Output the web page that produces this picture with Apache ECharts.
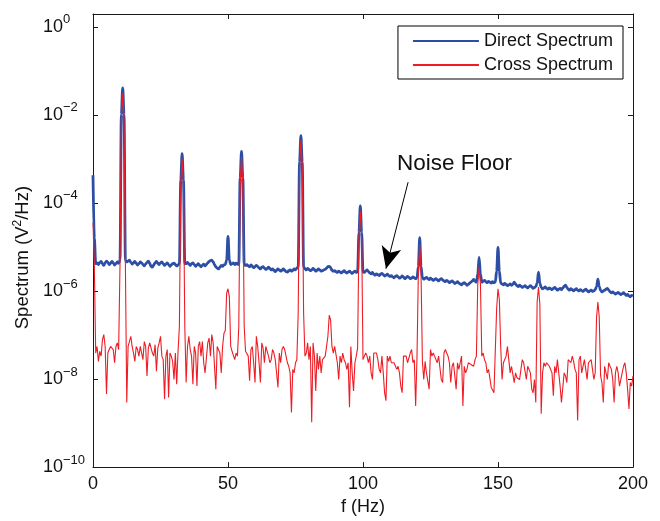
<!DOCTYPE html>
<html><head><meta charset="utf-8">
<script src="https://cdn.jsdelivr.net/npm/echarts@6/dist/echarts.min.js"></script>
<style>html,body{margin:0;padding:0;background:#fff}#c{width:660px;height:521px}</style>
</head><body><div id="c"></div>
<script>
// Frequency bin spacing of the spectra (Hz)
const binWidthHz = 0.5;
// Direct spectrum in decades (log10 of V^2/Hz), one value per 0.5 Hz bin, 0..200 Hz
const directLog10 = [
-3.37,-4.80,-5.38,-5.36,-5.40,-5.35,-5.33,-5.38,-5.42,-5.36,-5.32,-5.35,-5.40,-5.37,-5.33,-5.36,-5.41,-5.38,-5.34,-5.37,
-5.30,-1.99,-1.39,-1.99,-5.30,-5.34,-5.32,-5.30,-5.35,-5.39,-5.36,-5.33,-5.37,-5.41,-5.38,-5.34,-5.36,-5.40,-5.43,-5.39,
-5.35,-5.32,-5.37,-5.44,-5.46,-5.41,-5.36,-5.33,-5.37,-5.40,-5.36,-5.34,-5.38,-5.42,-5.39,-5.36,-5.40,-5.44,-5.41,-5.38,
-5.37,-5.40,-5.43,-5.41,-5.38,-3.48,-2.88,-3.48,-5.38,-5.38,-5.35,-5.39,-5.42,-5.38,-5.36,-5.40,-5.44,-5.41,-5.38,-5.42,
-5.45,-5.42,-5.39,-5.43,-5.40,-5.36,-5.33,-5.31,-5.30,-5.34,-5.40,-5.45,-5.48,-5.50,-5.46,-5.42,-5.44,-5.41,-5.40,-5.30,
-4.76,-5.30,-5.40,-5.38,-5.36,-5.40,-5.37,-5.39,-5.40,-3.43,-2.83,-3.43,-5.40,-5.42,-5.40,-5.43,-5.45,-5.41,-5.44,-5.47,
-5.45,-5.42,-5.44,-5.48,-5.50,-5.46,-5.45,-5.48,-5.51,-5.49,-5.46,-5.49,-5.52,-5.50,-5.53,-5.56,-5.53,-5.50,-5.52,-5.55,
-5.53,-5.50,-5.53,-5.56,-5.57,-5.54,-5.52,-5.55,-5.53,-5.50,-5.52,-5.48,-5.45,-3.07,-2.47,-3.07,-5.45,-5.50,-5.52,-5.49,
-5.51,-5.54,-5.52,-5.49,-5.51,-5.55,-5.53,-5.50,-5.52,-5.55,-5.54,-5.52,-5.51,-5.48,-5.45,-5.44,-5.47,-5.53,-5.55,-5.54,
-5.56,-5.58,-5.55,-5.57,-5.59,-5.56,-5.54,-5.57,-5.59,-5.57,-5.55,-5.58,-5.60,-5.57,-5.55,-5.58,-5.57,-4.67,-4.07,-4.67,
-5.57,-5.58,-5.55,-5.52,-5.56,-5.59,-5.61,-5.58,-5.62,-5.64,-5.61,-5.63,-5.65,-5.62,-5.60,-5.63,-5.66,-5.64,-5.62,-5.65,
-5.67,-5.65,-5.68,-5.70,-5.67,-5.65,-5.68,-5.71,-5.69,-5.66,-5.68,-5.72,-5.70,-5.67,-5.69,-5.72,-5.71,-5.68,-5.70,-5.72,
-5.70,-5.45,-4.79,-5.45,-5.70,-5.73,-5.71,-5.69,-5.72,-5.74,-5.71,-5.73,-5.76,-5.74,-5.72,-5.75,-5.77,-5.74,-5.72,-5.75,
-5.77,-5.79,-5.76,-5.78,-5.81,-5.79,-5.77,-5.80,-5.83,-5.81,-5.79,-5.82,-5.84,-5.86,-5.83,-5.81,-5.84,-5.87,-5.85,-5.82,
-5.80,-5.77,-5.74,-5.78,-5.80,-5.62,-5.24,-5.62,-5.80,-5.78,-5.76,-5.79,-5.81,-5.78,-5.80,-5.82,-5.79,-5.81,-5.80,-5.55,
-5.01,-5.55,-5.82,-5.84,-5.86,-5.83,-5.85,-5.88,-5.86,-5.84,-5.87,-5.85,-5.80,-5.84,-5.88,-5.90,-5.87,-5.89,-5.92,-5.90,
-5.88,-5.91,-5.93,-5.90,-5.88,-5.91,-5.94,-5.92,-5.90,-5.82,-5.57,-5.82,-5.92,-5.95,-5.93,-5.91,-5.94,-5.96,-5.93,-5.95,
-5.97,-5.94,-5.92,-5.95,-5.98,-5.96,-5.94,-5.97,-5.93,-5.89,-5.87,-5.92,-5.96,-5.98,-5.95,-5.97,-6.00,-5.97,-5.95,-5.98,
-6.00,-5.97,-5.99,-6.01,-5.98,-5.96,-5.99,-6.02,-6.00,-5.98,-6.01,-6.00,-5.97,-5.90,-5.73,-5.90,-5.99,-6.02,-6.00,-5.98,
-5.96,-5.94,-5.98,-6.02,-6.04,-6.02,-6.05,-6.07,-6.05,-6.03,-6.06,-6.08,-6.06,-6.04,-6.07,-6.10,-6.08,-6.11,-6.13,-6.10,
-6.09];
// Cross spectrum, same bins, log10 of V^2/Hz
const crossLog10 = [
-4.45,-5.45,-7.41,-7.26,-7.60,-7.37,-7.48,-7.11,-6.99,-7.26,-8.34,-7.41,-7.33,-7.26,-7.22,-7.33,-7.63,-7.26,-7.18,-7.33,
-5.41,-2.11,-1.51,-2.11,-5.41,-8.53,-7.26,-7.15,-7.03,-7.26,-7.41,-7.60,-7.26,-7.33,-7.48,-7.26,-7.22,-7.56,-7.15,-7.26,
-7.93,-7.30,-7.18,-7.15,-7.41,-7.48,-7.22,-7.82,-7.30,-7.18,-7.03,-7.48,-7.56,-8.46,-7.48,-7.33,-8.42,-7.41,-7.48,-7.60,
-8.01,-7.41,-8.12,-7.37,-6.80,-3.59,-2.99,-3.59,-6.80,-8.08,-7.26,-7.03,-7.33,-7.48,-8.12,-7.26,-7.41,-8.16,-7.26,-7.15,
-7.48,-7.15,-7.63,-7.86,-7.86,-7.18,-7.07,-7.48,-6.99,-7.18,-7.18,-8.23,-7.26,-7.22,-7.41,-7.86,-7.26,-6.96,-6.90,-6.05,
-5.95,-6.13,-7.26,-7.37,-7.33,-7.56,-7.41,-7.48,-6.80,-3.57,-2.97,-3.57,-6.80,-7.37,-7.41,-7.48,-8.04,-7.33,-7.26,-7.63,
-8.08,-7.03,-7.26,-7.63,-8.08,-7.18,-7.30,-7.63,-7.26,-7.26,-7.48,-7.63,-7.56,-7.33,-7.41,-7.56,-7.86,-8.19,-7.41,-7.63,
-7.33,-7.26,-7.33,-7.48,-7.63,-7.71,-7.86,-8.76,-7.78,-7.86,-7.63,-7.56,-6.50,-3.18,-2.58,-3.18,-6.50,-7.48,-7.41,-7.18,
-7.56,-7.26,-8.98,-7.18,-7.48,-8.27,-7.41,-7.78,-7.48,-7.86,-7.56,-7.60,-7.48,-7.26,-7.03,-6.55,-6.66,-7.26,-7.41,-7.26,
-7.22,-7.63,-8.01,-7.48,-7.63,-7.41,-7.56,-7.63,-7.78,-7.63,-8.64,-7.26,-7.86,-8.27,-7.63,-7.48,-7.30,-4.78,-4.18,-4.78,
-7.56,-7.48,-7.41,-7.48,-7.63,-7.48,-7.86,-8.01,-7.41,-7.37,-7.41,-7.56,-7.78,-7.86,-7.48,-7.86,-8.31,-8.49,-7.48,-7.60,
-7.48,-7.63,-7.60,-7.63,-7.63,-7.78,-7.71,-7.86,-8.16,-8.31,-7.48,-7.45,-7.48,-7.63,-7.63,-7.41,-7.33,-7.63,-7.56,-8.61,
-7.50,-5.60,-4.94,-5.60,-7.60,-8.01,-7.60,-7.86,-7.86,-8.23,-7.33,-7.48,-7.41,-7.48,-7.48,-7.63,-7.48,-7.48,-8.01,-8.08,
-7.41,-7.33,-7.41,-7.48,-7.63,-8.08,-7.71,-7.63,-7.63,-8.23,-7.63,-7.78,-7.63,-7.48,-8.61,-7.71,-7.86,-7.78,-7.63,-7.63,
-7.67,-7.71,-7.71,-7.56,-7.48,-5.85,-5.46,-5.85,-7.48,-7.41,-7.56,-7.63,-7.86,-7.78,-7.78,-8.19,-8.23,-8.31,-8.31,-6.40,
-5.95,-6.20,-7.26,-8.01,-7.63,-7.63,-7.48,-7.26,-7.56,-7.86,-7.71,-7.71,-8.08,-7.86,-7.97,-7.97,-8.01,-7.78,-7.56,-7.63,
-7.60,-8.01,-7.71,-7.71,-7.86,-8.23,-8.31,-8.01,-8.53,-6.25,-5.91,-6.30,-8.79,-7.86,-7.63,-7.71,-7.63,-7.63,-7.71,-7.67,
-7.86,-8.38,-7.71,-7.86,-7.56,-7.86,-8.16,-8.53,-8.53,-7.86,-7.93,-8.08,-7.56,-7.56,-7.63,-7.48,-7.60,-7.78,-7.86,-8.94,
-7.56,-7.48,-7.86,-7.86,-7.56,-7.78,-8.01,-7.63,-7.63,-7.56,-7.78,-8.01,-7.86,-6.60,-6.25,-6.60,-7.93,-8.08,-8.53,-7.71,
-7.86,-8.01,-7.63,-7.71,-7.78,-8.01,-8.53,-7.86,-7.71,-7.86,-8.16,-8.01,-8.01,-7.71,-7.63,-7.86,-8.23,-8.68,-8.08,-8.16,
-7.93];
const seriesNames = ['Direct Spectrum', 'Cross Spectrum'];
const xTicks = [0, 50, 100, 150, 200];
const yTickExponents = [-10, -8, -6, -4, -2, 0];
// annotation: text anchor and arrow (data coordinates: Hz, V^2/Hz)
const noteText = 'Noise Floor';
const noteAnchor = [112.6, 7.6e-4];
const arrowFrom = [116.7, 2.95e-4];
const arrowTo = [108.5, 3.2e-6];

const BLUE = '#2c4ea5', RED = '#ee1d25', AX = '#1a1a1a';
const FONT = 'Liberation Sans';
const toPairs = arr => arr.map((v, i) => [i * binWidthHz, Math.pow(10, v)]);
const supLabel = v => {
  const e = Math.log10(v), r = Math.round(e);
  if (Math.abs(e - r) > 1e-6 || yTickExponents.indexOf(r) < 0) return '';
  return '{b|10}{s|' + (r < 0 ? '\u2212' : '') + Math.abs(r) + '}';
};
const chart = echarts.init(document.getElementById('c'), null, {renderer: 'canvas'});
const tickStyle = {show: true, inside: true, length: 5, lineStyle: {color: AX, width: 1}};
const axisLineStyle = {show: true, onZero: false, lineStyle: {color: AX, width: 1}};
const yCommon = {type: 'log', logBase: 10, min: 1e-10, max: 1.95, interval: 2,
  splitLine: {show: false}, minorTick: {show: false}, axisLine: axisLineStyle, axisTick: tickStyle};
chart.setOption({
  animation: false,
  backgroundColor: '#fff',
  textStyle: {fontFamily: FONT},
  grid: {left: 93, right: 27, top: 14, bottom: 49, containLabel: false},
  legend: {
    orient: 'vertical', right: 37, top: 26,
    data: seriesNames,
    backgroundColor: '#fff', borderColor: '#000', borderWidth: 1, borderRadius: 0,
    padding: [6, 10, 5, 14], itemWidth: 66, itemHeight: 14, itemGap: 6,
    itemStyle: {opacity: 0},
    textStyle: {fontSize: 18, color: '#111', fontFamily: FONT}
  },
  xAxis: [{
    type: 'value', min: xTicks[0], max: xTicks[xTicks.length - 1], interval: 50,
    name: 'f (Hz)', nameLocation: 'middle', nameGap: 27,
    nameTextStyle: {fontSize: 18, color: '#111', fontFamily: FONT},
    axisLine: axisLineStyle, axisTick: tickStyle, splitLine: {show: false},
    axisLabel: {fontSize: 18, color: '#111', margin: 8, fontFamily: FONT}
  }, {
    type: 'value', position: 'top', min: xTicks[0], max: xTicks[xTicks.length - 1], interval: 50,
    axisLine: axisLineStyle, axisTick: tickStyle, splitLine: {show: false}, axisLabel: {show: false}
  }],
  yAxis: [Object.assign({}, yCommon, {
    position: 'left',
    name: '{n|Spectrum (V}{s|2}{n|/Hz)}', nameLocation: 'middle', nameGap: 60,
    nameTextStyle: {padding: [0, 34, 0, 0], rich: {n: {fontSize: 18.5, color: '#111', fontFamily: FONT}, s: {fontSize: 12, color: '#111', fontFamily: FONT, padding: [0, 0, 9, 0]}}},
    axisLabel: {
      formatter: supLabel, align: 'left', margin: 50,
      rich: {b: {fontSize: 18, color: '#111', fontFamily: FONT}, s: {fontSize: 13, color: '#111', fontFamily: FONT, padding: [0, 0, 14, 0]}}
    }
  }), Object.assign({}, yCommon, {position: 'right', axisLabel: {show: false}})],
  series: [{
    name: seriesNames[0], type: 'line', xAxisIndex: 0, yAxisIndex: 0,
    data: toPairs(directLog10), symbol: 'none', showSymbol: false, z: 2,
    smooth: 0.35, smoothMonotone: 'x',
    lineStyle: {color: BLUE, width: 2.8, join: 'round'}, itemStyle: {color: BLUE},
    markLine: {
      silent: true, symbol: ['none', 'arrow'], symbolSize: [15, 22], animation: false,
      lineStyle: {color: '#000', width: 1, type: 'solid'}, label: {show: false},
      data: [[{coord: arrowFrom}, {coord: arrowTo}]]
    },
    markPoint: {
      silent: true, animation: false,
      data: [{coord: noteAnchor, symbol: 'circle', symbolSize: 0,
        label: {show: true, position: 'right', distance: 0, formatter: noteText, fontSize: 22.5, color: '#111', fontFamily: FONT}}]
    }
  }, {
    name: seriesNames[1], type: 'line', xAxisIndex: 0, yAxisIndex: 0,
    data: toPairs(crossLog10), symbol: 'none', showSymbol: false, z: 3,
    lineStyle: {color: RED, width: 1.1}, itemStyle: {color: RED}
  }]
});
</script>
</body></html>
